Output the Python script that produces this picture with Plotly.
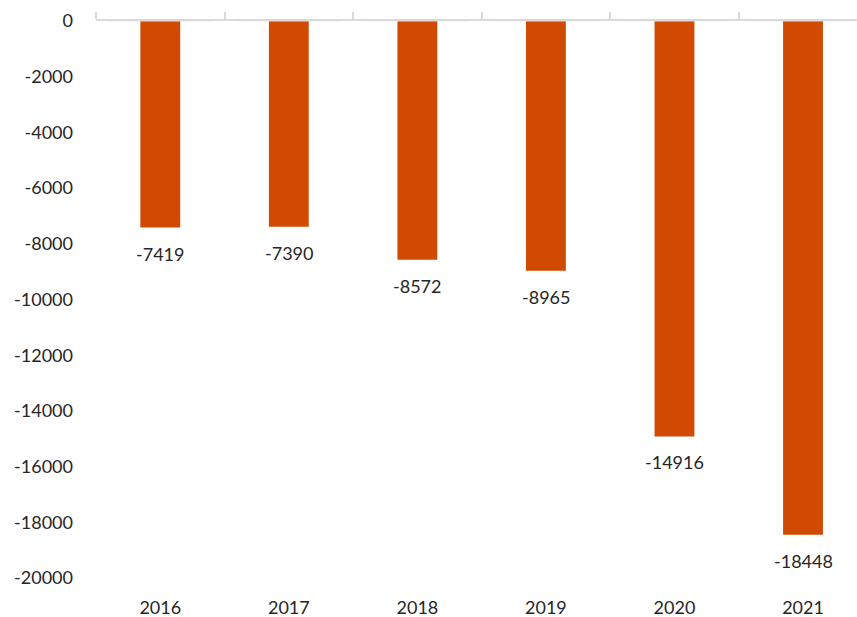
import plotly.graph_objects as go

# Annual balance values
years = ["2016", "2017", "2018", "2019", "2020", "2021"]
values = [-7419, -7390, -8572, -8965, -14916, -18448]

y_ticks = list(range(-20000, 1, 2000))

FONT = "Lato, 'Open Sans', sans-serif"
TEXT_COLOR = "#262626"
BAR_COLOR = "#D04A02"
X_RANGE = [-0.5, 5.42]

fig = go.Figure()
fig.add_trace(go.Bar(
    x=years,
    y=values,
    marker=dict(color=BAR_COLOR, line=dict(width=0)),
    width=0.31,
    xaxis="x",
    yaxis="y",
    hovertemplate="%{x}: %{y}<extra></extra>",
))
# Invisible trace on the top axis carrying the zero line with its tick marks
fig.add_trace(go.Bar(
    x=years, y=[0] * len(years), xaxis="x2", yaxis="y",
    marker=dict(color="rgba(0,0,0,0)"), showlegend=False, hoverinfo="skip",
))

# Value labels under each bar end
annotations = [
    dict(
        x=i, y=v, xref="x", yref="y",
        text=str(v), showarrow=False,
        xanchor="center", yanchor="top", yshift=-13,
        font=dict(family=FONT, size=18, color=TEXT_COLOR),
    )
    for i, v in enumerate(values)
]

fig.update_layout(
    width=857,
    height=617,
    margin=dict(l=96, r=0, t=21, b=39),
    paper_bgcolor="white",
    plot_bgcolor="white",
    showlegend=False,
    annotations=annotations,
    xaxis=dict(
        type="category",
        range=X_RANGE,
        showline=False,
        showgrid=False,
        zeroline=False,
        ticks="",
        ticklabelstandoff=17,
        tickfont=dict(family=FONT, size=18, color=TEXT_COLOR),
    ),
    xaxis2=dict(
        type="category",
        overlaying="x",
        side="top",
        range=X_RANGE,
        showline=True,
        linecolor="#D9D9D9",
        linewidth=1.5,
        ticks="outside",
        tickson="boundaries",
        ticklen=7,
        tickcolor="#D9D9D9",
        tickwidth=1.5,
        showticklabels=False,
        showgrid=False,
    ),
    yaxis=dict(
        range=[-20000, 0],
        tickvals=y_ticks,
        ticktext=[str(v) for v in y_ticks],
        showgrid=False,
        zeroline=False,
        showline=False,
        ticks="",
        ticklabelstandoff=22,
        tickfont=dict(family=FONT, size=18, color=TEXT_COLOR),
    ),
)

fig.write_html("out.html")
